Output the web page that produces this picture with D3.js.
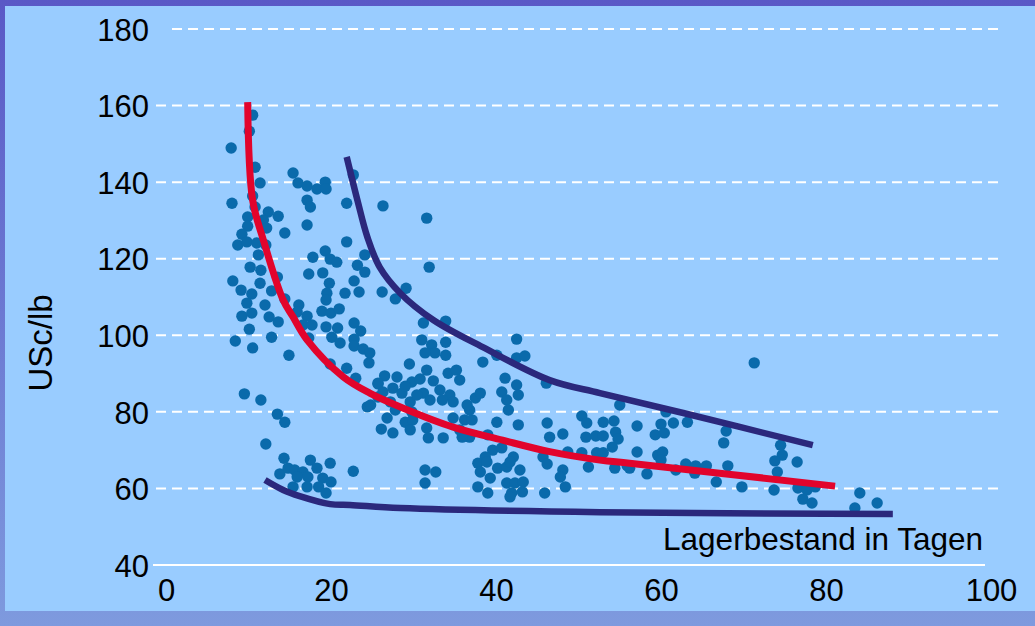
<!DOCTYPE html>
<html>
<head>
<meta charset="utf-8">
<script src="https://cdn.jsdelivr.net/npm/d3@7"></script>
<style>
  body { margin: 0; background: #fff; }
  text { font-family: "Liberation Sans", Arial, sans-serif; fill: #000; }
</style>
</head>
<body>
<svg id="chart" width="1035" height="626"></svg>
<script>
// tick labels
const xTicks = [0, 20, 40, 60, 80, 100]
const yTicks = [40, 60, 80, 100, 120, 140, 160, 180]

// scatter: [Lagerbestand in Tagen, USc/lb]
const points = [
  [10.5,157.5],[10.1,153.3],[7.9,148.9],[10.8,143.9],[15.4,142.4],[11.4,139.8],[16.0,139.8],[17.1,139.0],
  [18.3,138.2],[19.3,140.0],[19.4,138.2],[22.7,141.9],[8.0,134.5],[10.5,136.4],[17.1,135.3],[17.5,133.5],
  [21.9,134.5],[26.3,133.8],[31.6,130.6],[10.8,133.5],[12.4,132.2],[13.6,131.1],[9.9,130.9],[11.8,130.1],
  [9.9,128.5],[12.2,128.0],[14.4,126.7],[9.2,126.4],[17.1,128.8],[21.9,124.4],[8.7,123.6],[9.8,124.4],
  [11.0,124.1],[12.1,123.6],[11.2,121.0],[17.8,120.4],[19.3,122.0],[19.9,119.9],[20.7,119.1],[24.1,121.0],
  [23.2,118.3],[10.2,117.8],[11.5,117.0],[13.5,115.2],[8.1,114.2],[11.4,113.6],[9.1,111.8],[10.4,110.8],
  [12.8,111.6],[17.3,116.0],[19.0,116.3],[19.8,113.6],[19.5,111.0],[19.4,109.2],[21.7,111.0],[22.8,114.2],
  [23.4,111.3],[24.1,116.5],[31.9,117.8],[26.2,111.3],[29.1,112.3],[27.8,109.5],[9.8,108.4],[12.0,107.9],
  [9.2,105.0],[10.4,105.8],[12.5,104.8],[13.6,103.5],[14.4,109.5],[16.1,107.9],[15.9,106.1],[17.1,105.0],
  [16.6,102.7],[17.7,102.7],[18.9,106.3],[20.0,105.8],[21.0,106.9],[19.4,102.2],[20.8,101.9],[22.8,103.2],
  [23.6,101.1],[10.1,101.6],[8.4,98.5],[10.5,96.7],[12.8,99.5],[17.3,99.3],[20.1,99.5],[21.1,98.0],
  [22.8,99.0],[22.8,97.2],[23.9,96.4],[24.7,95.4],[24.6,92.8],[14.9,94.8],[19.9,92.5],[21.9,91.4],
  [23.0,88.8],[25.7,87.3],[24.4,81.3],[25.7,83.9],[9.5,84.7],[11.5,83.1],[13.5,79.4],[14.4,77.3],
  [31.2,103.2],[33.9,103.7],[31.0,98.8],[32.2,97.5],[33.9,98.2],[32.6,95.4],[31.4,95.4],[33.9,94.8],
  [12.1,71.6],[14.3,67.9],[17.5,67.4],[19.9,66.6],[13.8,63.8],[14.8,65.3],[15.6,64.8],[16.6,64.3],
  [18.3,65.3],[15.9,63.0],[17.2,63.0],[19.0,62.7],[20.0,61.7],[15.4,60.4],[17.1,60.4],[18.5,60.4],
  [19.4,58.8],[22.7,64.5],
  [29.5,92.5],[31.6,90.9],[34.2,90.1],[35.2,90.9],[35.6,88.3],[32.4,88.1],[29.8,87.8],[30.8,88.6],
  [26.5,89.4],[28.0,89.1],[25.7,87.5],[26.3,85.2],[27.5,86.2],[28.6,84.9],[29.0,86.7],[31.2,84.9],
  [33.2,85.7],[34.4,84.4],[32.0,83.1],[33.5,83.1],[34.8,82.6],[24.8,81.8],[27.2,82.6],[29.6,82.6],
  [30.4,84.4],[27.8,80.5],[29.8,80.0],[26.8,78.4],[29.0,77.3],[29.9,77.9],[26.1,75.5],[27.5,74.5],
  [29.6,75.3],[31.6,75.8],[31.8,73.2],[33.6,73.2],[34.8,78.4],[36.2,77.9],[37.1,77.9],[35.6,75.3],
  [36.8,73.4],[35.9,73.4],[36.8,80.5],[37.5,83.6],[38.1,84.9],[36.5,81.8],[40.7,85.2],[41.3,83.1],
  [41.5,80.5],[40.1,77.3],[42.7,76.6],[42.5,87.0],[42.7,84.4],[41.1,88.8],[42.5,99.0],[38.4,93.0],
  [40.1,94.8],[42.5,94.1],[43.5,94.6],[39.0,74.0],[39.6,70.0],[40.7,70.6],[38.7,68.2],[37.8,66.6],
  [38.9,66.9],[38.1,64.3],[39.3,62.7],[37.8,60.4],[39.0,58.8],[40.2,65.3],[41.3,65.6],[42.1,68.2],
  [41.7,66.9],[42.9,64.8],[41.3,61.4],[42.3,61.4],[43.3,61.7],[41.9,58.8],[43.2,59.1],[31.4,64.8],
  [32.7,64.3],[31.4,61.4],[46.1,87.5],[46.2,77.1],[46.5,73.4],[48.1,74.2],[45.7,68.2],[46.2,66.4],
  [48.1,64.8],[47.8,63.0],[48.4,60.4],[45.9,58.8],[41.7,57.8],[48.7,69.5],[50.4,69.3],[52.2,69.3],
  [53.0,69.3],[50.4,78.9],[51.0,77.1],[53.0,77.3],[54.3,77.6],[50.9,73.4],[52.1,73.7],[53.0,73.7],
  [54.5,74.7],[54.8,72.9],[54.1,70.8],[51.2,65.6],[54.4,65.3],[55.9,65.9],[55.0,81.8],
  [60.6,80.0],[57.1,76.3],[60.0,76.8],[61.5,77.1],[63.2,77.3],[59.3,74.0],[60.4,74.5],[67.9,75.0],
  [67.6,71.9],[57.1,69.5],[59.6,68.7],[60.2,69.5],[60.0,67.4],[56.2,65.3],[58.3,63.8],[61.8,64.8],
  [63.0,66.4],[64.2,65.9],[65.5,65.9],[64.1,64.0],[66.7,61.7],[68.1,65.9],[69.8,60.4],[74.5,71.3],
  [74.7,68.7],[73.8,67.2],[74.1,64.3],[76.5,66.9],[73.7,59.6],[76.6,60.1],[77.7,59.6],[78.7,60.4],
  [77.2,57.2],[78.3,56.2],[71.3,92.8],[84.1,58.8],[83.5,54.9],[86.2,56.2]
]

// red fitted curve
const redCurve = [
  [9.9,160.9],[10.5,135.3],[11.8,124.9],[14.2,109.2],[15.4,104.8],[17.1,98.8],[21.5,89.1],
  [24.7,84.9],[28.7,81.0],[34.8,76.0],[40.8,72.6],[46.5,69.6],[52.6,67.4],[56.2,66.6],[81.1,60.6]
]

// upper and lower dark blue bounds
const upperCurve = [
  [21.9,146.6],[23.2,135.3],[24.4,125.7],[25.9,117.8],[28.4,111.0],[32.4,104.0],[38.4,96.9],
  [46.5,88.3],[52.6,84.9],[62.7,79.7],[78.4,71.3]
]
const lowerCurve = [
  [12.0,62.2],[14.2,59.6],[16.2,58.0],[19.9,55.9],[22.3,55.7],[28.4,54.9],[52.6,53.8],[88.1,53.3]
]

const svg = d3.select('#chart')

const defs = svg.append('defs')
const grad = defs.append('linearGradient').attr('id', 'frame').attr('x1', 0).attr('y1', 0).attr('x2', 0).attr('y2', 1)
grad.append('stop').attr('offset', '0%').attr('stop-color', '#5a58c6')
grad.append('stop').attr('offset', '100%').attr('stop-color', '#7e9ade')

svg.append('rect').attr('width', 1035).attr('height', 626).attr('fill', 'url(#frame)')
svg.append('rect').attr('x', 5).attr('y', 6).attr('width', 1030).attr('height', 605).attr('fill', '#99ccff')

const x = d3.scaleLinear().domain([0, 100]).range([166, 991])
const y = d3.scaleLinear().domain([40, 180]).range([565, 29])

// dashed grid
svg.append('g')
  .selectAll('line')
  .data(yTicks.filter((d) => d > 40))
  .enter()
  .append('line')
  .attr('x1', (d) => (d === 180 ? 172 : 156))
  .attr('x2', 1003)
  .attr('y1', (d) => y(d))
  .attr('y2', (d) => y(d))
  .attr('stroke', '#fff')
  .attr('stroke-width', 2)
  .attr('stroke-dasharray', '10,6')

// x axis line
svg.append('line')
  .attr('x1', 153).attr('x2', 985)
  .attr('y1', y(40)).attr('y2', y(40))
  .attr('stroke', '#fff').attr('stroke-width', 2)

const yAxis = svg.append('g')
  .attr('transform', 'translate(156,0)')
  .call(d3.axisLeft(y).tickValues(yTicks).tickSize(0).tickPadding(7))
yAxis.select('.domain').remove()
yAxis.selectAll('text').attr('font-size', 31).attr('dy', '0.36em')
  .style('font-family', '"Liberation Sans", Arial, sans-serif').attr('fill', '#000')

const xAxis = svg.append('g')
  .attr('transform', `translate(0,${y(40)})`)
  .call(d3.axisBottom(x).tickValues(xTicks).tickSize(0).tickPadding(14))
xAxis.select('.domain').remove()
xAxis.selectAll('text').attr('font-size', 31)
  .style('font-family', '"Liberation Sans", Arial, sans-serif').attr('fill', '#000')

// axis titles
svg.append('text')
  .attr('x', 983).attr('y', 550)
  .attr('text-anchor', 'end')
  .attr('font-size', 31.5)
  .text('Lagerbestand in Tagen')

svg.append('text')
  .attr('transform', 'translate(52,343) rotate(-90)')
  .attr('text-anchor', 'middle')
  .attr('font-size', 33)
  .text('USc/lb')

// dots
svg.append('g')
  .selectAll('circle')
  .data(points)
  .enter()
  .append('circle')
  .attr('cx', (d) => x(d[0]))
  .attr('cy', (d) => y(d[1]))
  .attr('r', 5.7)
  .attr('fill', '#0a6aab')

const line = d3.line()
  .x((d) => x(d[0]))
  .y((d) => y(d[1]))
  .curve(d3.curveCatmullRom.alpha(0.5))

svg.append('path').datum(lowerCurve).attr('d', line)
  .attr('fill', 'none').attr('stroke', '#2b287c').attr('stroke-width', 6.5)
svg.append('path').datum(upperCurve).attr('d', line)
  .attr('fill', 'none').attr('stroke', '#2b287c').attr('stroke-width', 6.5)
svg.append('path').datum(redCurve).attr('d', line)
  .attr('fill', 'none').attr('stroke', '#e2042c').attr('stroke-width', 7)
</script>
</body>
</html>
